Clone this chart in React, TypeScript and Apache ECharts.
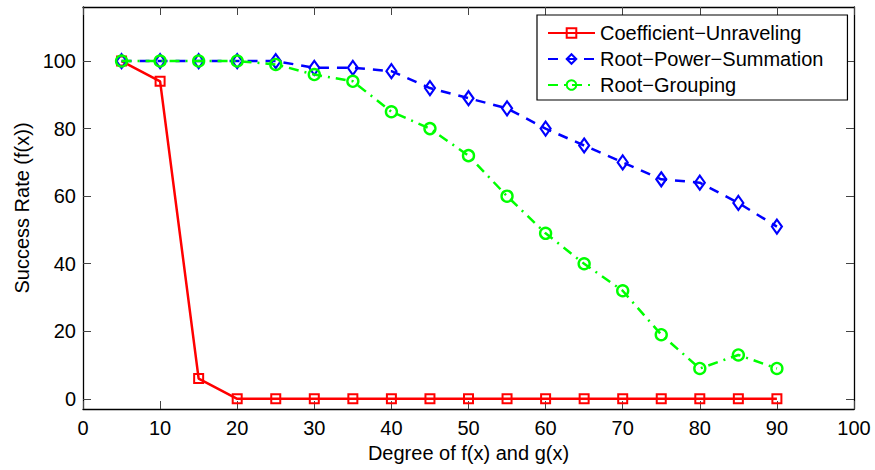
import React, { useEffect, useRef } from "react";
import * as echarts from "echarts";

const degrees = [5, 10, 15, 20, 25, 30, 35, 40, 45, 50, 55, 60, 65, 70, 75, 80, 85, 90];
const coefficientUnraveling = [100, 94, 6, 0, 0, 0, 0, 0, 0, 0, 0, 0, 0, 0, 0, 0, 0, 0];
const rootPowerSummation = [100, 100, 100, 100, 100, 98, 98, 97, 92, 89, 86, 80, 75, 70, 65, 64, 58, 51];
const rootGrouping = [100, 100, 100, 100, 99, 96, 94, 85, 80, 72, 60, 49, 40, 32, 19, 9, 13, 9];
const yTickValues = [0, 20, 40, 60, 80, 100];
const seriesNames = ["Coefficient\u2212Unraveling", "Root\u2212Power\u2212Summation", "Root\u2212Grouping"];

const FONT = "Liberation Sans, Arial, Helvetica, sans-serif";
const FS = 20;

export default function App() {
  const ref = useRef<HTMLDivElement>(null);
  useEffect(() => {
    if (!ref.current) return;
    const chart = echarts.init(ref.current, undefined, { renderer: "svg" });
    const pair = (ys: number[]) => degrees.map((x, i) => [x, ys[i]]);
    const axisLine = { show: true, onZero: false, lineStyle: { color: "#000", width: 1.3 } };
    const tick = { show: true, inside: true, length: 8, lineStyle: { color: "#444", width: 1 } };
    chart.setOption({
      animation: false,
      backgroundColor: "#fff",
      textStyle: { fontFamily: FONT },
      grid: { left: 83, right: 21, top: 7, bottom: 61, containLabel: false },
      legend: {
        left: 537,
        top: 15,
        orient: "vertical",
        data: seriesNames,
        backgroundColor: "#fff",
        borderColor: "#000",
        borderWidth: 1.2,
        borderRadius: 0,
        padding: [8, 24, 5, 10],
        itemWidth: 47,
        itemHeight: 12,
        itemGap: 6,
        textStyle: { fontFamily: FONT, fontSize: FS, color: "#000", padding: [0, 0, 0, 0] },
      },
      xAxis: [
        {
          type: "value",
          min: 0,
          max: 100,
          interval: 10,
          position: "bottom",
          name: "Degree of f(x) and g(x)",
          nameLocation: "middle",
          nameGap: 30,
          nameTextStyle: { fontFamily: FONT, fontSize: FS, color: "#000" },
          axisLine,
          axisTick: tick,
          axisLabel: { fontFamily: FONT, fontSize: FS, color: "#000", margin: 9 },
          splitLine: { show: false },
        },
        {
          type: "value",
          min: 0,
          max: 100,
          interval: 10,
          position: "top",
          axisLine,
          axisTick: tick,
          axisLabel: { show: false },
          splitLine: { show: false },
        },
      ],
      yAxis: [
        {
          type: "value",
          min: -3,
          max: 116,
          position: "left",
          name: "Success Rate (f(x))",
          nameLocation: "middle",
          nameGap: 50,
          nameTextStyle: { fontFamily: FONT, fontSize: FS, color: "#000" },
          axisLine,
          axisTick: { ...tick, customValues: yTickValues },
          axisLabel: { fontFamily: FONT, fontSize: FS, color: "#000", margin: 7, customValues: yTickValues },
          splitLine: { show: false },
        },
        {
          type: "value",
          min: -3,
          max: 116,
          position: "right",
          axisLine,
          axisTick: { ...tick, customValues: yTickValues },
          axisLabel: { show: false, customValues: yTickValues },
          splitLine: { show: false },
        },
      ],
      series: [
        {
          name: seriesNames[0],
          type: "line",
          data: pair(coefficientUnraveling),
          symbol: "rect",
          symbolSize: 9,
          showAllSymbol: true,
          lineStyle: { color: "#ff0000", width: 2.5, type: "solid" },
          itemStyle: { color: "rgba(255,0,0,0)", borderColor: "#ff0000", borderWidth: 2 },
          z: 3,
        },
        {
          name: seriesNames[1],
          type: "line",
          data: pair(rootPowerSummation),
          symbol: "diamond",
          symbolSize: [10, 14],
          showAllSymbol: true,
          lineStyle: { color: "#0000ff", width: 2.5, type: [10, 8] },
          itemStyle: { color: "rgba(0,0,255,0)", borderColor: "#0000ff", borderWidth: 2.2 },
          z: 4,
        },
        {
          name: seriesNames[2],
          type: "line",
          data: pair(rootGrouping),
          symbol: "circle",
          symbolSize: 11,
          showAllSymbol: true,
          lineStyle: { color: "#00ff00", width: 2.5, type: [10, 6, 2, 6] },
          itemStyle: { color: "rgba(0,255,0,0)", borderColor: "#00ff00", borderWidth: 2.4 },
          z: 5,
        },
      ],
    });
    return () => chart.dispose();
  }, []);
  return (
    <div
      ref={ref}
      style={{ position: "absolute", left: 0, top: 0, width: 875, height: 470, background: "#fff" }}
    />
  );
}
